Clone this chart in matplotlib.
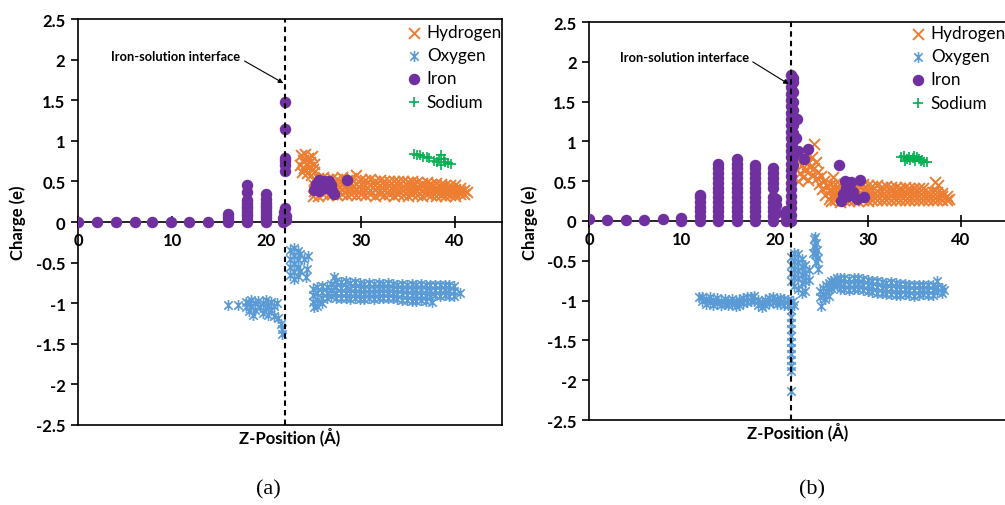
import numpy as np
import matplotlib
matplotlib.use("Agg")
import matplotlib.pyplot as plt
from matplotlib.path import Path
from matplotlib.ticker import FuncFormatter

plt.rcParams["font.family"] = ["Lato", "DejaVu Sans"]
plt.rcParams["font.weight"] = "bold"

C_H = "#ED7D31"
C_O = "#5B9BD5"
C_FE = "#7030A0"
C_NA = "#00B050"

series_names = ["Hydrogen", "Oxygen", "Iron", "Sodium"]
x_ticks = [0, 10, 20, 30, 40]
y_ticks = [-2.5, -2, -1.5, -1, -0.5, 0, 0.5, 1, 1.5, 2, 2.5]

# ---------------- panel (a) ----------------
interface_a = 22.0

hydrogen_a = [
    (23.6, 0.70), (23.7, 0.82), (23.8, 0.62), (23.9, 0.76), (24.0, 0.66), (24.1, 0.84),
    (24.2, 0.72), (24.3, 0.60), (24.4, 0.79), (24.5, 0.68), (24.6, 0.74), (24.7, 0.58),
    (24.8, 0.81), (24.9, 0.65), (25.0, 0.72), (25.1, 0.61),
    (24.9, 0.32), (25.0, 0.38), (25.0, 0.45), (25.1, 0.52),
    (25.5, 0.32), (25.5, 0.40), (25.5, 0.47), (25.5, 0.54),
    (26.0, 0.34), (26.0, 0.41), (26.0, 0.49), (26.0, 0.55),
    (26.5, 0.33), (26.5, 0.40), (26.5, 0.47), (26.5, 0.53),
    (27.0, 0.35), (27.0, 0.42), (27.0, 0.48), (27.0, 0.54),
    (27.5, 0.33), (27.5, 0.40), (27.5, 0.46), (27.5, 0.53),
    (28.0, 0.34), (28.0, 0.41), (28.0, 0.48), (28.0, 0.55),
    (28.5, 0.33), (28.5, 0.39), (28.5, 0.46), (28.5, 0.52),
    (29.0, 0.35), (29.0, 0.42), (29.0, 0.48), (29.0, 0.54),
    (29.5, 0.33), (29.5, 0.40), (29.5, 0.47), (29.5, 0.58),
    (30.0, 0.34), (30.0, 0.41), (30.0, 0.47), (30.0, 0.53),
    (30.5, 0.33), (30.5, 0.39), (30.5, 0.46), (30.5, 0.52),
    (31.0, 0.34), (31.0, 0.40), (31.0, 0.47), (31.0, 0.53),
    (31.5, 0.32), (31.5, 0.39), (31.5, 0.45), (31.5, 0.51),
    (32.0, 0.34), (32.0, 0.40), (32.0, 0.46), (32.0, 0.52),
    (32.5, 0.33), (32.5, 0.39), (32.5, 0.45), (32.5, 0.51),
    (33.0, 0.34), (33.0, 0.40), (33.0, 0.46), (33.0, 0.50),
    (33.5, 0.32), (33.5, 0.38), (33.5, 0.44), (33.5, 0.51),
    (34.0, 0.34), (34.0, 0.39), (34.0, 0.45), (34.0, 0.50),
    (34.5, 0.33), (34.5, 0.39), (34.5, 0.44), (34.5, 0.50),
    (35.0, 0.32), (35.0, 0.38), (35.0, 0.44), (35.0, 0.49),
    (35.5, 0.34), (35.5, 0.39), (35.5, 0.45), (35.5, 0.50),
    (36.0, 0.33), (36.0, 0.38), (36.0, 0.43), (36.0, 0.49),
    (36.5, 0.32), (36.5, 0.38), (36.5, 0.44), (36.5, 0.48),
    (37.0, 0.34), (37.0, 0.39), (37.0, 0.44), (37.0, 0.49),
    (37.5, 0.33), (37.5, 0.38), (37.5, 0.43), (37.5, 0.47),
    (38.0, 0.32), (38.0, 0.37), (38.0, 0.42), (38.0, 0.48),
    (38.5, 0.33), (38.5, 0.38), (38.5, 0.43), (38.5, 0.47),
    (39.0, 0.32), (39.0, 0.37), (39.0, 0.41), (39.0, 0.46),
    (39.5, 0.33), (39.5, 0.38), (39.5, 0.42), (39.5, 0.46),
    (40.0, 0.32), (40.0, 0.36), (40.0, 0.41), (40.0, 0.45),
    (40.5, 0.34), (40.5, 0.38), (40.5, 0.42),
    (41.0, 0.35), (41.0, 0.39), (41.3, 0.37),
]

oxygen_a = [
    (15.9, -1.02), (17.0, -1.02),
    (17.8, -0.98), (17.8, -1.05), (18.1, -1.00), (18.1, -1.10), (18.4, -0.96),
    (18.4, -1.04), (18.6, -1.15), (18.8, -1.00), (18.8, -1.08), (19.1, -0.97),
    (19.3, -1.05), (19.6, -1.00), (19.6, -1.12), (19.9, -0.96), (19.9, -1.06),
    (20.2, -1.02), (20.2, -1.14), (20.5, -0.98), (20.5, -1.08), (20.8, -1.04),
    (20.8, -1.16), (21.1, -1.00), (21.2, -1.18), (21.5, -1.25), (21.6, -1.32),
    (21.7, -1.38),
    (22.5, -0.35), (22.5, -0.45), (22.5, -0.55), (22.5, -0.65), (22.9, -0.32),
    (22.9, -0.42), (22.9, -0.52), (22.9, -0.62), (22.9, -0.70), (23.3, -0.36),
    (23.3, -0.46), (23.3, -0.56), (23.3, -0.66), (23.6, -0.40), (23.6, -0.60),
    (24.0, -0.45), (24.3, -0.58), (24.4, -0.42), (24.2, -0.68),
    (24.9, -0.82), (24.9, -0.90), (24.9, -0.98), (25.0, -1.05),
    (25.4, -0.80), (25.4, -0.88), (25.4, -0.96), (25.4, -1.03),
    (25.9, -0.79), (25.9, -0.86), (25.9, -0.93), (25.9, -1.00),
    (26.4, -0.80), (26.4, -0.87), (26.4, -0.94),
    (26.9, -0.76), (26.9, -0.84), (26.9, -0.91), (27.2, -0.68),
    (27.4, -0.73), (27.4, -0.80), (27.4, -0.87), (27.4, -0.93),
    (27.9, -0.74), (27.9, -0.81), (27.9, -0.88), (27.9, -0.94),
    (28.4, -0.73), (28.4, -0.80), (28.4, -0.87), (28.4, -0.93),
    (28.9, -0.75), (28.9, -0.82), (28.9, -0.88), (28.9, -0.95),
    (29.4, -0.74), (29.4, -0.81), (29.4, -0.87), (29.4, -0.93),
    (29.9, -0.75), (29.9, -0.82), (29.9, -0.89), (29.9, -0.95),
    (30.4, -0.76), (30.4, -0.83), (30.4, -0.89), (30.4, -0.95),
    (30.9, -0.75), (30.9, -0.82), (30.9, -0.88), (30.9, -0.94),
    (31.4, -0.76), (31.4, -0.83), (31.4, -0.89), (31.4, -0.95),
    (31.9, -0.75), (31.9, -0.81), (31.9, -0.87), (31.9, -0.93),
    (32.4, -0.76), (32.4, -0.82), (32.4, -0.88), (32.4, -0.94),
    (32.9, -0.75), (32.9, -0.81), (32.9, -0.87), (32.9, -0.93),
    (33.4, -0.76), (33.4, -0.82), (33.4, -0.88), (33.4, -0.94),
    (33.9, -0.77), (33.9, -0.83), (33.9, -0.89), (33.9, -0.95),
    (34.4, -0.76), (34.4, -0.82), (34.4, -0.89), (34.4, -0.96),
    (34.9, -0.77), (34.9, -0.84), (34.9, -0.90), (34.9, -0.96),
    (35.4, -0.76), (35.4, -0.83), (35.4, -0.90), (35.4, -0.97),
    (35.9, -0.77), (35.9, -0.84), (35.9, -0.91), (35.9, -0.97),
    (36.4, -0.76), (36.4, -0.83), (36.4, -0.90), (36.4, -0.96),
    (36.9, -0.77), (36.9, -0.84), (36.9, -0.91), (36.9, -0.97),
    (37.4, -0.78), (37.4, -0.85), (37.4, -0.92), (37.6, -0.98),
    (37.9, -0.77), (37.9, -0.84), (37.9, -0.90),
    (38.4, -0.78), (38.4, -0.84), (38.4, -0.91),
    (38.9, -0.77), (38.9, -0.83), (38.9, -0.90),
    (39.4, -0.78), (39.4, -0.84), (39.4, -0.91),
    (39.9, -0.79), (39.9, -0.85), (39.9, -0.91),
    (40.5, -0.87),
]

iron_a = [
    (0.0, 0.0), (2.0, 0.0), (4.0, 0.0), (6.0, 0.0), (7.9, 0.0), (9.9, 0.0),
    (11.8, 0.0), (13.8, 0.0),
    (15.9, 0.0), (15.9, 0.03), (15.9, 0.06), (15.9, 0.10),
    (17.9, 0.0), (17.9, 0.03), (17.9, 0.07), (17.9, 0.10), (17.9, 0.13), (17.9, 0.17),
    (17.9, 0.20), (17.9, 0.24), (17.9, 0.27), (17.9, 0.37), (17.9, 0.46),
    (19.9, 0.0), (19.9, 0.03), (19.9, 0.06), (19.9, 0.10), (19.9, 0.13), (19.9, 0.17),
    (19.9, 0.20), (19.9, 0.24), (19.9, 0.28), (19.9, 0.34),
    (21.8, 0.0), (22.1, 0.02), (21.8, 0.05), (22.1, 0.08), (21.9, 0.12), (22.0, 0.17),
    (22.0, 0.63), (22.0, 0.70), (22.0, 0.75), (22.0, 0.79), (22.0, 1.14), (22.0, 1.48),
    (25.0, 0.40), (25.3, 0.47), (25.6, 0.52), (25.8, 0.44), (26.1, 0.50), (26.3, 0.42),
    (26.6, 0.51), (26.9, 0.46), (27.0, 0.38), (27.2, 0.35), (25.6, 0.38), (28.6, 0.52),
]

sodium_a = [
    (35.7, 0.84), (36.0, 0.83), (36.3, 0.82), (36.6, 0.80), (37.0, 0.80), (37.3, 0.79),
    (37.8, 0.75), (38.1, 0.74), (38.3, 0.77), (38.5, 0.82), (38.5, 0.70), (38.8, 0.77),
    (39.0, 0.74), (39.3, 0.73), (39.6, 0.72),
]

# ---------------- panel (b) ----------------
interface_b = 21.7

hydrogen_b = [
    (22.5, 0.50), (22.7, 0.60), (22.9, 0.70), (23.0, 0.55), (23.2, 0.78), (23.3, 0.64),
    (23.4, 0.85), (23.5, 0.72), (23.6, 0.52), (23.8, 0.68), (24.0, 0.80), (24.0, 0.58),
    (24.2, 0.97), (24.2, 0.66), (24.4, 0.74), (24.5, 0.54), (24.7, 0.62), (24.8, 0.46),
    (25.0, 0.56), (25.1, 0.40), (25.3, 0.50), (25.4, 0.33), (25.6, 0.44), (25.8, 0.28),
    (25.9, 0.38), (26.3, 0.55),
    (26.0, 0.25), (26.0, 0.32), (26.0, 0.39), (26.0, 0.46),
    (26.5, 0.27), (26.5, 0.33), (26.5, 0.40), (26.5, 0.47),
    (27.0, 0.24), (27.0, 0.31), (27.0, 0.38), (27.0, 0.45),
    (27.5, 0.26), (27.5, 0.33), (27.5, 0.40), (27.5, 0.47),
    (28.0, 0.25), (28.0, 0.32), (28.0, 0.39), (28.0, 0.46),
    (28.5, 0.27), (28.5, 0.34), (28.5, 0.41), (28.5, 0.47),
    (29.0, 0.25), (29.0, 0.32), (29.0, 0.39), (29.0, 0.45),
    (29.5, 0.26), (29.5, 0.33), (29.5, 0.40), (29.5, 0.46),
    (30.0, 0.25), (30.0, 0.32), (30.0, 0.38), (30.0, 0.45),
    (30.5, 0.27), (30.5, 0.33), (30.5, 0.39), (30.5, 0.44),
    (31.0, 0.26), (31.0, 0.32), (31.0, 0.38), (31.0, 0.45),
    (31.5, 0.27), (31.5, 0.33), (31.5, 0.38), (31.5, 0.43),
    (32.0, 0.26), (32.0, 0.32), (32.0, 0.38), (32.0, 0.44),
    (32.5, 0.27), (32.5, 0.33), (32.5, 0.39), (32.5, 0.43),
    (33.0, 0.26), (33.0, 0.32), (33.0, 0.37), (33.0, 0.43),
    (33.5, 0.27), (33.5, 0.33), (33.5, 0.38), (33.5, 0.42),
    (34.0, 0.26), (34.0, 0.31), (34.0, 0.37), (34.0, 0.43),
    (34.5, 0.27), (34.5, 0.32), (34.5, 0.38), (34.5, 0.42),
    (35.0, 0.26), (35.0, 0.31), (35.0, 0.36), (35.0, 0.42),
    (35.5, 0.27), (35.5, 0.32), (35.5, 0.37), (35.5, 0.41),
    (36.0, 0.26), (36.0, 0.31), (36.0, 0.36), (36.0, 0.41),
    (36.5, 0.27), (36.5, 0.32), (36.5, 0.37),
    (37.0, 0.26), (37.0, 0.31), (37.0, 0.36),
    (37.5, 0.27), (37.5, 0.32), (37.5, 0.37),
    (38.0, 0.26), (38.0, 0.31), (38.0, 0.35),
    (38.5, 0.27), (38.5, 0.32), (38.8, 0.28),
    (37.3, 0.49), (37.6, 0.45),
]

oxygen_b = [
    (11.8, -0.96), (12.2, -0.95), (12.2, -1.01), (12.6, -0.98), (12.6, -1.04),
    (13.0, -0.96), (13.0, -1.02), (13.4, -0.99), (13.4, -1.05), (13.8, -0.97),
    (13.8, -1.03), (14.2, -1.00), (14.2, -1.06), (14.6, -0.98), (14.6, -1.04),
    (15.0, -1.00), (15.0, -1.06), (15.4, -0.98), (15.4, -1.04), (15.8, -1.01),
    (15.8, -1.07), (16.2, -0.99), (16.2, -1.05), (16.6, -0.97), (16.6, -1.03),
    (17.0, -0.96), (17.0, -1.02), (17.4, -0.95), (17.4, -1.01), (17.8, -0.94),
    (17.8, -1.00), (18.2, -0.99), (18.2, -1.05), (18.6, -1.02), (18.6, -1.08),
    (19.0, -0.99), (19.0, -1.05), (19.4, -0.97), (19.4, -1.03), (19.8, -0.96),
    (19.8, -1.02), (20.2, -0.98), (20.2, -1.04), (20.6, -0.97), (20.6, -1.03),
    (21.0, -0.98), (21.0, -1.05), (21.4, -0.99), (21.4, -1.06), (22.0, -1.00),
    (22.1, -1.06),
    (21.7, -1.12), (21.7, -1.20), (21.7, -1.28), (21.7, -1.36), (21.7, -1.44),
    (21.7, -1.52), (21.7, -1.60), (21.7, -1.67), (21.7, -1.74), (21.7, -1.82),
    (21.7, -1.89), (21.8, -2.14),
    (21.8, -0.45), (21.8, -0.55), (21.8, -0.65), (21.8, -0.75), (22.1, -0.40),
    (22.1, -0.50), (22.1, -0.60), (22.1, -0.70), (22.1, -0.82), (22.5, -0.42),
    (22.5, -0.52), (22.5, -0.62), (22.5, -0.72), (22.5, -0.85), (22.9, -0.48),
    (22.9, -0.58), (22.9, -0.68), (22.9, -0.78), (22.9, -0.90), (23.3, -0.55),
    (23.3, -0.65), (23.3, -0.75), (23.3, -0.88), (23.7, -0.62), (23.7, -0.74),
    (24.2, -0.22), (24.2, -0.32), (24.3, -0.42), (24.4, -0.28), (24.4, -0.52),
    (24.5, -0.36), (24.6, -0.46), (24.6, -0.60), (24.1, -0.40), (24.3, -0.20),
    (24.9, -0.88), (24.9, -0.96), (25.0, -1.07), (25.2, -0.84), (25.2, -0.92),
    (25.4, -0.98), (25.5, -0.80), (25.5, -0.88), (25.8, -0.78), (25.8, -0.86),
    (25.8, -0.94), (26.1, -0.76), (26.1, -0.84), (26.4, -0.74), (26.4, -0.82),
    (26.7, -0.72), (26.7, -0.80),
    (27.0, -0.71), (27.0, -0.78), (27.0, -0.85),
    (27.5, -0.72), (27.5, -0.79), (27.5, -0.86),
    (28.0, -0.73), (28.0, -0.80), (28.0, -0.87),
    (28.5, -0.72), (28.5, -0.79), (28.5, -0.86),
    (29.0, -0.71), (29.0, -0.78), (29.0, -0.85),
    (29.5, -0.73), (29.5, -0.80), (29.5, -0.87),
    (30.0, -0.74), (30.0, -0.81), (30.0, -0.88),
    (30.5, -0.75), (30.5, -0.82), (30.5, -0.89),
    (31.0, -0.76), (31.0, -0.83), (31.0, -0.90),
    (31.5, -0.77), (31.5, -0.84), (31.5, -0.91),
    (32.0, -0.78), (32.0, -0.85), (32.0, -0.92),
    (32.5, -0.77), (32.5, -0.84), (32.5, -0.92),
    (33.0, -0.78), (33.0, -0.85), (33.0, -0.93),
    (33.5, -0.79), (33.5, -0.86), (33.5, -0.93),
    (34.0, -0.79), (34.0, -0.86), (34.0, -0.92),
    (34.5, -0.80), (34.5, -0.87), (34.5, -0.93),
    (35.0, -0.80), (35.0, -0.87), (35.0, -0.94),
    (35.5, -0.81), (35.5, -0.87), (35.5, -0.93),
    (36.0, -0.80), (36.0, -0.86), (36.0, -0.92),
    (36.5, -0.81), (36.5, -0.87), (36.5, -0.93),
    (37.0, -0.80), (37.0, -0.87), (37.0, -0.93),
    (37.5, -0.76), (37.5, -0.83), (37.5, -0.89),
    (38.0, -0.84), (38.0, -0.91), (38.2, -0.87),
]

iron_b = [
    (0.0, 0.02), (1.9, 0.01), (4.0, 0.01), (5.9, 0.01), (8.0, 0.02), (9.9, 0.0), (9.9, 0.04),
    (12.0, 0.0), (12.0, 0.06), (12.0, 0.12), (12.0, 0.18), (12.0, 0.24), (12.0, 0.30), (12.0, 0.33),
    (13.9, 0.0), (13.9, 0.06), (13.9, 0.12), (13.9, 0.18), (13.9, 0.24), (13.9, 0.30),
    (13.9, 0.36), (13.9, 0.42), (13.9, 0.48), (13.9, 0.54), (13.9, 0.60), (13.9, 0.66),
    (13.9, 0.72),
    (15.9, 0.0), (15.9, 0.06), (15.9, 0.12), (15.9, 0.18), (15.9, 0.24), (15.9, 0.30),
    (15.9, 0.36), (15.9, 0.42), (15.9, 0.48), (15.9, 0.54), (15.9, 0.60), (15.9, 0.66),
    (15.9, 0.72), (15.9, 0.78),
    (17.9, 0.0), (17.9, 0.06), (17.9, 0.12), (17.9, 0.18), (17.9, 0.24), (17.9, 0.30),
    (17.9, 0.36), (17.9, 0.42), (17.9, 0.48), (17.9, 0.54), (17.9, 0.60), (17.9, 0.66),
    (17.9, 0.70),
    (19.8, 0.0), (19.8, 0.06), (19.8, 0.12), (19.8, 0.18), (19.8, 0.24), (19.8, 0.30),
    (19.8, 0.42), (19.8, 0.48), (19.8, 0.54), (19.8, 0.60), (19.8, 0.66),
    (20.1, 0.10), (20.1, 0.20), (20.1, 0.28),
    (21.2, 0.0), (21.2, 0.06), (21.2, 0.12),
    (21.7, 0.0), (21.7, 0.08), (21.7, 0.16), (21.7, 0.24), (21.7, 0.32), (21.7, 0.40),
    (21.7, 0.48), (21.7, 0.56), (21.7, 0.64), (21.7, 0.72), (21.7, 0.80), (21.7, 0.88),
    (21.7, 0.96), (21.7, 1.04), (21.7, 1.12), (21.7, 1.20), (21.7, 1.28), (21.7, 1.36),
    (21.7, 1.44), (21.7, 1.52), (21.7, 1.60), (21.7, 1.68), (21.7, 1.76), (21.7, 1.84),
    (22.0, 1.80), (22.0, 1.74), (22.0, 1.62), (22.0, 1.50), (22.0, 1.40), (22.0, 1.30),
    (22.0, 1.20), (22.0, 1.10), (22.0, 1.00), (22.0, 0.90), (22.0, 0.80), (22.0, 0.70),
    (22.4, 1.28), (22.3, 1.04), (22.5, 0.88), (23.1, 0.78), (23.6, 0.90),
    (26.9, 0.70), (27.6, 0.50), (28.2, 0.49), (29.2, 0.52), (27.3, 0.34), (27.1, 0.25),
    (27.9, 0.31), (28.9, 0.28), (29.6, 0.30), (27.7, 0.42), (28.4, 0.36),
]

sodium_b = [
    (33.6, 0.80), (33.9, 0.82), (34.0, 0.76), (34.2, 0.78), (34.4, 0.81), (34.6, 0.77),
    (34.9, 0.79), (35.0, 0.82), (35.1, 0.76), (35.3, 0.80), (35.5, 0.78), (35.7, 0.75),
    (35.9, 0.77), (36.1, 0.74), (36.4, 0.74),
]

# Excel-style "star" marker: an x crossed by a vertical stroke
STAR = Path([(-1, -1), (1, 1), (-1, 1), (1, -1), (0, -1.3), (0, 1.3)],
            [Path.MOVETO, Path.LINETO] * 3)

W, H = 1005, 506


def cols(points):
    arr = np.asarray(points, dtype=float)
    return arr[:, 0], arr[:, 1]


def draw_panel(ax, hydrogen, oxygen, iron, sodium, interface_x,
               note_xy, arrow_xy, legend_px):
    hx, hy = cols(hydrogen)
    ox, oy = cols(oxygen)
    fx, fy = cols(iron)
    nx, ny = cols(sodium)

    ax.scatter(hx, hy, marker="x", s=62, lw=1.4, color=C_H, label=series_names[0], zorder=2)
    ax.scatter(ox, oy, marker=STAR, s=62, lw=1.2, color=C_O, label=series_names[1], zorder=2)
    ax.scatter(fx, fy, marker="o", s=68, lw=0, color=C_FE, label=series_names[2], zorder=3)
    ax.scatter(nx, ny, marker="+", s=58, lw=1.2, color=C_NA, label=series_names[3], zorder=4)

    ax.set_xlim(0, 45)
    ax.set_ylim(-2.5, 2.5)
    ax.set_xticks(x_ticks)
    ax.set_yticks(y_ticks)
    ax.yaxis.set_major_formatter(FuncFormatter(lambda v, p: f"{v:g}"))

    # x axis runs along charge = 0, with a closed frame around the plot area
    ax.spines["bottom"].set_position(("data", 0))
    for s in ax.spines.values():
        s.set_linewidth(1.2)
    ax.plot([0, 1], [0, 0], transform=ax.transAxes, color="black", lw=1.2,
            clip_on=False, zorder=6)

    ax.tick_params(axis="x", direction="inout", length=9, width=1.2, pad=3,
                   labelsize=12)
    ax.tick_params(axis="y", direction="out", length=5, width=1.2, pad=4,
                   labelsize=12)

    ax.axvline(interface_x, color="black", lw=1.5, ls=(0, (2.6, 2.0)), zorder=5)

    ax.annotate("Iron-solution interface", xy=arrow_xy, xytext=note_xy,
                ha="center", va="center", fontsize=9.3, fontweight="bold",
                arrowprops=dict(arrowstyle="-|>", color="black", lw=0.8,
                                mutation_scale=7, shrinkA=1, shrinkB=0,
                                relpos=(1.0, 0.3)))

    ax.text(0.5, -0.027, "Z-Position (Å)", transform=ax.transAxes,
            ha="center", va="center", fontsize=12, fontweight="bold")

    leg = ax.legend(loc="upper left", bbox_to_anchor=(legend_px[0] / W, 1 - legend_px[1] / H),
                    bbox_transform=ax.figure.transFigure, frameon=False,
                    prop=dict(family=["Lato", "DejaVu Sans"], weight="normal", size=12.3),
                    handlelength=0.8, handletextpad=0.36, labelspacing=0.42,
                    borderpad=0, borderaxespad=0, scatterpoints=1)
    return leg


fig = plt.figure(figsize=(W / 100, H / 100), dpi=100)
fig.patch.set_facecolor("white")

ax_a = fig.add_axes([78 / W, (H - 426) / H, 424 / W, 406 / H])
ax_b = fig.add_axes([589 / W, (H - 421) / H, 418 / W, 398 / H])

draw_panel(ax_a, hydrogen_a, oxygen_a, iron_a, sodium_a, interface_a,
           note_xy=(10.4, 2.04), arrow_xy=(21.8, 1.71), legend_px=(407, 25))
draw_panel(ax_b, hydrogen_b, oxygen_b, iron_b, sodium_b, interface_b,
           note_xy=(10.25, 2.06), arrow_xy=(21.5, 1.72), legend_px=(911, 26))

for x_px, lab in [(18, "Charge (e)"), (530, "Charge (e)")]:
    fig.text(x_px / W, 1 - 223 / H, lab, rotation=90, ha="center", va="center",
             fontsize=12, fontweight="bold")

for x_px, lab in [(268, "(a)"), (812, "(b)")]:
    fig.text(x_px / W, 1 - 490 / H, lab, ha="center", va="center",
             family="Liberation Serif", fontweight="normal", fontsize=16)

fig.savefig("out.png", dpi=100)
